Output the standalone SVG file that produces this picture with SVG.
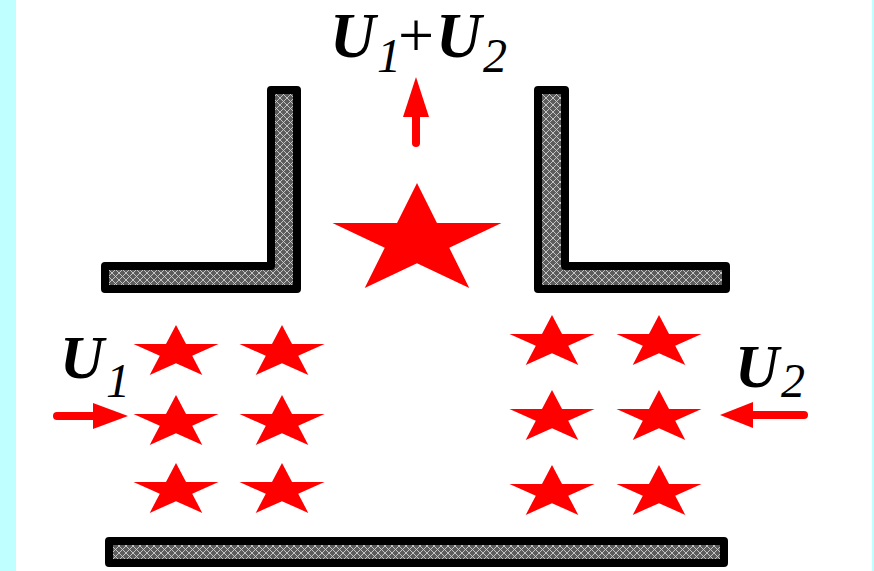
<svg xmlns="http://www.w3.org/2000/svg" width="874" height="571" viewBox="0 0 874 571">
<style>
.wall{fill:url(#hatch);stroke:#000;stroke-width:8;stroke-linejoin:round}
.star{fill:#ff0000}
.shaft{stroke:#ff0000;stroke-width:8;stroke-linecap:round;fill:none}
.head{fill:#ff0000}
.b{font-family:"Liberation Serif","Times New Roman",serif;font-weight:bold;font-style:italic;fill:#000}
.s{font-family:"Liberation Serif","Times New Roman",serif;font-style:italic;font-size:48px;fill:#000}
.p{font-family:"Liberation Serif","Times New Roman",serif;font-size:64px;fill:#000}
</style>
<defs>
<pattern id="hatch" patternUnits="userSpaceOnUse" width="7" height="7">
<rect width="7" height="7" fill="#5c5c5c"/>
<path d="M0,0 L7,7 M7,0 L0,7" stroke="#cfcfcf" stroke-width="0.9"/>
</pattern>
<path id="st" d="M0,-100 L22.45,-30.9 L95.1,-30.9 L36.3,11.8 L58.8,80.9 L0,38.2 L-58.8,80.9 L-36.3,11.8 L-95.1,-30.9 L-22.45,-30.9 Z"/>
</defs>
<rect x="0" y="0" width="874" height="571" fill="#c0ffff"/>
<rect x="16" y="0" width="856" height="571" fill="#ffffff"/>
<g id="wall-left"><path class="wall" d="M271,90 L297,90 L297,289 L105,289 L105,266 L271,266 Z"/></g>
<g id="wall-right"><path class="wall" d="M538,90 L565,90 L565,266 L726,266 L726,289 L538,289 Z"/></g>
<g id="wall-bottom"><rect class="wall" x="109" y="541" width="615" height="22"/></g>
<g id="star-big"><use href="#st" class="star" transform="translate(417,241) scale(0.889,0.58)"/></g>
<g id="stars-left">
<use href="#st" class="star" transform="translate(176,352.6) scale(0.447,0.276)"/>
<use href="#st" class="star" transform="translate(282,352.6) scale(0.447,0.276)"/>
<use href="#st" class="star" transform="translate(176,422.6) scale(0.447,0.276)"/>
<use href="#st" class="star" transform="translate(282,422.6) scale(0.447,0.276)"/>
<use href="#st" class="star" transform="translate(176,490.6) scale(0.447,0.276)"/>
<use href="#st" class="star" transform="translate(282,490.6) scale(0.447,0.276)"/>
</g>
<g id="stars-right">
<use href="#st" class="star" transform="translate(552,342.6) scale(0.447,0.276)"/>
<use href="#st" class="star" transform="translate(659,342.6) scale(0.447,0.276)"/>
<use href="#st" class="star" transform="translate(552,417.6) scale(0.447,0.276)"/>
<use href="#st" class="star" transform="translate(659,417.6) scale(0.447,0.276)"/>
<use href="#st" class="star" transform="translate(552,492.6) scale(0.447,0.276)"/>
<use href="#st" class="star" transform="translate(659,492.6) scale(0.447,0.276)"/>
</g>
<g id="connectors">
<line class="shaft" x1="57" y1="416" x2="98" y2="416"/>
<polygon class="head" points="93,403 128,416 93,429"/>
<line class="shaft" x1="804" y1="415" x2="748" y2="415"/>
<polygon class="head" points="753,402 720,415 753,428"/>
<line class="shaft" x1="416" y1="143" x2="416" y2="110"/>
<polygon class="head" points="403,117 416,77 429,117"/>
</g>
<g id="label-top">
<text x="330" y="57" class="b" font-size="63">U</text>
<text x="377" y="72" class="s">1</text>
<text x="398" y="57" class="p">+</text>
<text x="436" y="57" class="b" font-size="63">U</text>
<text x="483" y="72" class="s">2</text>
</g>
<g id="label-u1">
<text x="60" y="378" class="b" font-size="61">U</text>
<text x="106" y="397" class="s">1</text>
</g>
<g id="label-u2">
<text x="735" y="387" class="b" font-size="61">U</text>
<text x="781" y="397" class="s">2</text>
</g>
</svg>
